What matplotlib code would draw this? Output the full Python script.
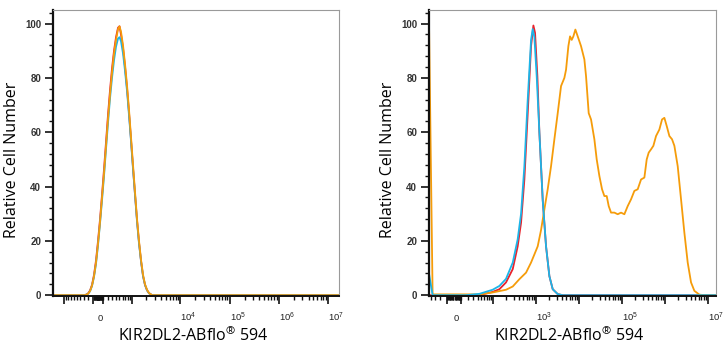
import numpy as np
import matplotlib
matplotlib.use('Agg')
import matplotlib.pyplot as plt

plt.rcParams['mathtext.default'] = 'regular'

# ---- data (fluorescence values, relative cell number) ----
# left panel: all three curves share the same x grid
left_x = [-1717, -274, -206, -163, -121, -80, -40, 0, 40, 80, 121, 163, 206, 251,
          298, 348, 401, 458, 502, 549, 617, 691, 771, 856, 949, 1048, 1159, 1281,
          1410, 1557, 1716, 1887, 2077, 2285, 2640, 1.65e7]
left_red = [0, 0, 0.6, 1.7, 3.8, 7.5, 12.8, 20, 28, 37, 46.5, 56.5, 66.5, 75.5,
            83.5, 90, 95, 98.5, 99, 96, 91, 84, 76, 67, 57, 47, 37, 27.5,
            19.5, 12.5, 7, 3.7, 1.8, 0.7, 0, 0]
left_cyan = [0, 0, 0.5, 1.4, 3.4, 6.8, 11.6, 18.5, 26.5, 35, 44, 54, 63.5, 72.5,
             80, 86.5, 91.5, 94.5, 95, 93.5, 89, 82.5, 75, 66, 56.5, 46.5, 37, 27,
             19, 12.5, 7, 3.8, 1.8, 0.7, 0, 0]
left_orange = [0, 0, 0.5, 1.5, 3.5, 7, 12, 19, 27, 36, 45, 55, 65, 74,
               82, 89, 94, 98, 99, 97, 92, 85, 77, 68, 58, 48, 38, 28,
               20, 13, 7.5, 4, 2, 0.8, 0, 0]

# right panel
right_red_x = [-44, 45, 96, 139, 199, 286, 373, 447, 534, 639, 764, 866, 946, 1072,
               1193, 1427, 1705, 2040, 2438, 3186, 4163, 1.53e7]
right_red_y = [0, 0, 1.2, 2.2, 4.7, 9.6, 18, 26.7, 42.6, 67, 91.7, 99.3, 96.6, 80.6,
               60, 35, 18, 7, 2.2, 0.4, 0, 0]
right_cyan_x = [-44, -35, 17, 45, 96, 139, 199, 286, 373, 447, 534, 639, 764, 835,
                913, 1034, 1193, 1427, 1705, 2040, 2438, 3186, 4163, 1.53e7]
right_cyan_y = [8, 0, 0, 0.5, 2, 3.4, 6, 12, 20.6, 30, 47.5, 72, 94, 98,
                95, 80.6, 60, 35, 18, 7, 2.2, 0.4, 0, 0]
right_orange_x = [-44, -35, 45, 96, 199, 286, 409, 584, 763, 913, 1091, 1305, 1560,
                  1864, 2229, 2665, 3186, 3808, 4551, 4976, 5640, 6166, 6743, 7371,
                  8207, 9297, 11110, 13290, 14530, 16760, 18990, 22700, 25720, 29670,
                  34220, 38780, 43950, 48920, 55420, 66250, 79210, 94690, 113200,
                  135300, 161800, 193400, 231200, 276400, 330400, 374500, 416800,
                  472300, 535200, 617300, 737900, 851100, 964500, 1093000, 1261000,
                  1454000, 1648000, 1970000, 2355000, 2815000, 3366000, 4023000,
                  4811000, 6288000, 8218000, 1.53e7]
right_orange_y = [101, 0.3, 0.3, 1, 2, 3.2, 5.9, 8.3, 12, 15, 18, 24, 31.6,
                  39, 47.5, 57.4, 67, 77, 80, 83, 91.7, 95.3, 94, 95.3,
                  97.8, 95.3, 91.7, 86.8, 80.6, 67, 64.7, 57.4, 50, 43.9,
                  39, 36.5, 36.5, 32.8, 30.4, 30.4, 29.8, 30.4, 29.8,
                  32.8, 35.3, 38.4, 39, 42.6, 43.3, 50, 52.5,
                  53.7, 55, 58.6, 61, 64.7, 65.3, 62.3, 58.6,
                  57.4, 55, 47.5, 35.3, 23, 12, 4.7,
                  1.6, 0.2, 0, 0]

left_xlabels = {0: '0', 1e4: '10$^4$', 1e5: '10$^5$', 1e6: '10$^6$', 1e7: '10$^7$'}
right_xlabels = {0: '0', 1e3: '10$^3$', 1e5: '10$^5$', 1e7: '10$^7$'}
y_ticks = [0, 20, 40, 60, 80, 100]

RED = '#e8232c'
CYAN = '#1cb5e8'
ORANGE = '#f59c0a'


def biex(c):
    # arcsinh scale, close to the biexponential axis of flow cytometry software
    return (lambda x: np.arcsinh(np.asarray(x, dtype=float) / c),
            lambda y: c * np.sinh(np.asarray(y, dtype=float)))


def setup(ax, c, xlim, labels, major_from):
    ax.set_xscale('function', functions=biex(c))

    majors = sorted(s * 10.0 ** k for k in range(major_from, 8) for s in (-1, 1))
    minors = sorted(s * m * 10.0 ** k for k in range(0, 7) for m in range(1, 10)
                    for s in (-1, 1))
    majors = [v for v in majors if xlim[0] <= v <= xlim[1]]
    minors = [v for v in minors if xlim[0] <= v <= xlim[1] and v not in majors]
    ax.set_xticks(majors)
    ax.set_xticks(minors, minor=True)
    ax.set_xlim(*xlim)
    ax.tick_params(axis='x', which='major', length=5.5, width=1.2, direction='out',
                   labelbottom=False, color='#111111')
    ax.tick_params(axis='x', which='minor', length=2.8, width=1.0, direction='out',
                   color='#111111')
    for v, t in labels.items():
        ax.text(v, -0.087, t, transform=ax.get_xaxis_transform(), ha='left',
                va='baseline', fontsize=6.8, family='Liberation Sans', color='#222222')

    ax.set_yticks(y_ticks)
    ax.set_yticks(np.arange(0, 105, 4), minor=True)
    ax.set_ylim(-0.3, 105)
    ax.tick_params(axis='y', which='major', length=5.5, width=1.2, pad=3,
                   labelsize=7, color='#111111', labelcolor='#333333')
    ax.tick_params(axis='y', which='minor', length=2.8, width=1.0, color='#111111')
    for t in ax.get_yticklabels():
        t.set_family('Liberation Sans')
        t.set_weight('bold')

    for s in ('top', 'right'):
        ax.spines[s].set_color('#9a9a9a')
        ax.spines[s].set_linewidth(0.8)
    ax.spines['left'].set_linewidth(1.6)
    ax.spines['bottom'].set_linewidth(1.4)
    ax.spines['left'].set_color('#111111')
    ax.spines['bottom'].set_color('#111111')

    ax.set_ylabel('Relative Cell Number', family='Open Sans', fontsize=11.5, labelpad=0)
    ax.yaxis.set_label_coords(-0.115, 0.476)
    ax.text(0.49, -0.157, 'KIR2DL2-ABflo$^{®}$ 594', transform=ax.transAxes,
            ha='center', va='baseline', family='Open Sans', fontsize=11.5)


fig = plt.figure(figsize=(7.26, 3.5), dpi=100)
ax1 = fig.add_axes([0.0730, 0.1543, 0.3939, 0.8171])
ax2 = fig.add_axes([0.5909, 0.1543, 0.3953, 0.8171])

lw = 1.3
ax1.plot(left_x, left_red, color=RED, lw=lw)
ax1.plot(left_x, left_cyan, color=CYAN, lw=lw)
ax1.plot(left_x, left_orange, color=ORANGE, lw=lw)
setup(ax1, 425, (-1717, 1.65e7), left_xlabels, 2)

ax2.plot(right_red_x, right_red_y, color=RED, lw=lw)
ax2.plot(right_orange_x, right_orange_y, color=ORANGE, lw=lw)
ax2.plot(right_cyan_x, right_cyan_y, color=CYAN, lw=lw)
setup(ax2, 24.7, (-44, 1.53e7), right_xlabels, 1)

fig.savefig('out.png', dpi=100)
